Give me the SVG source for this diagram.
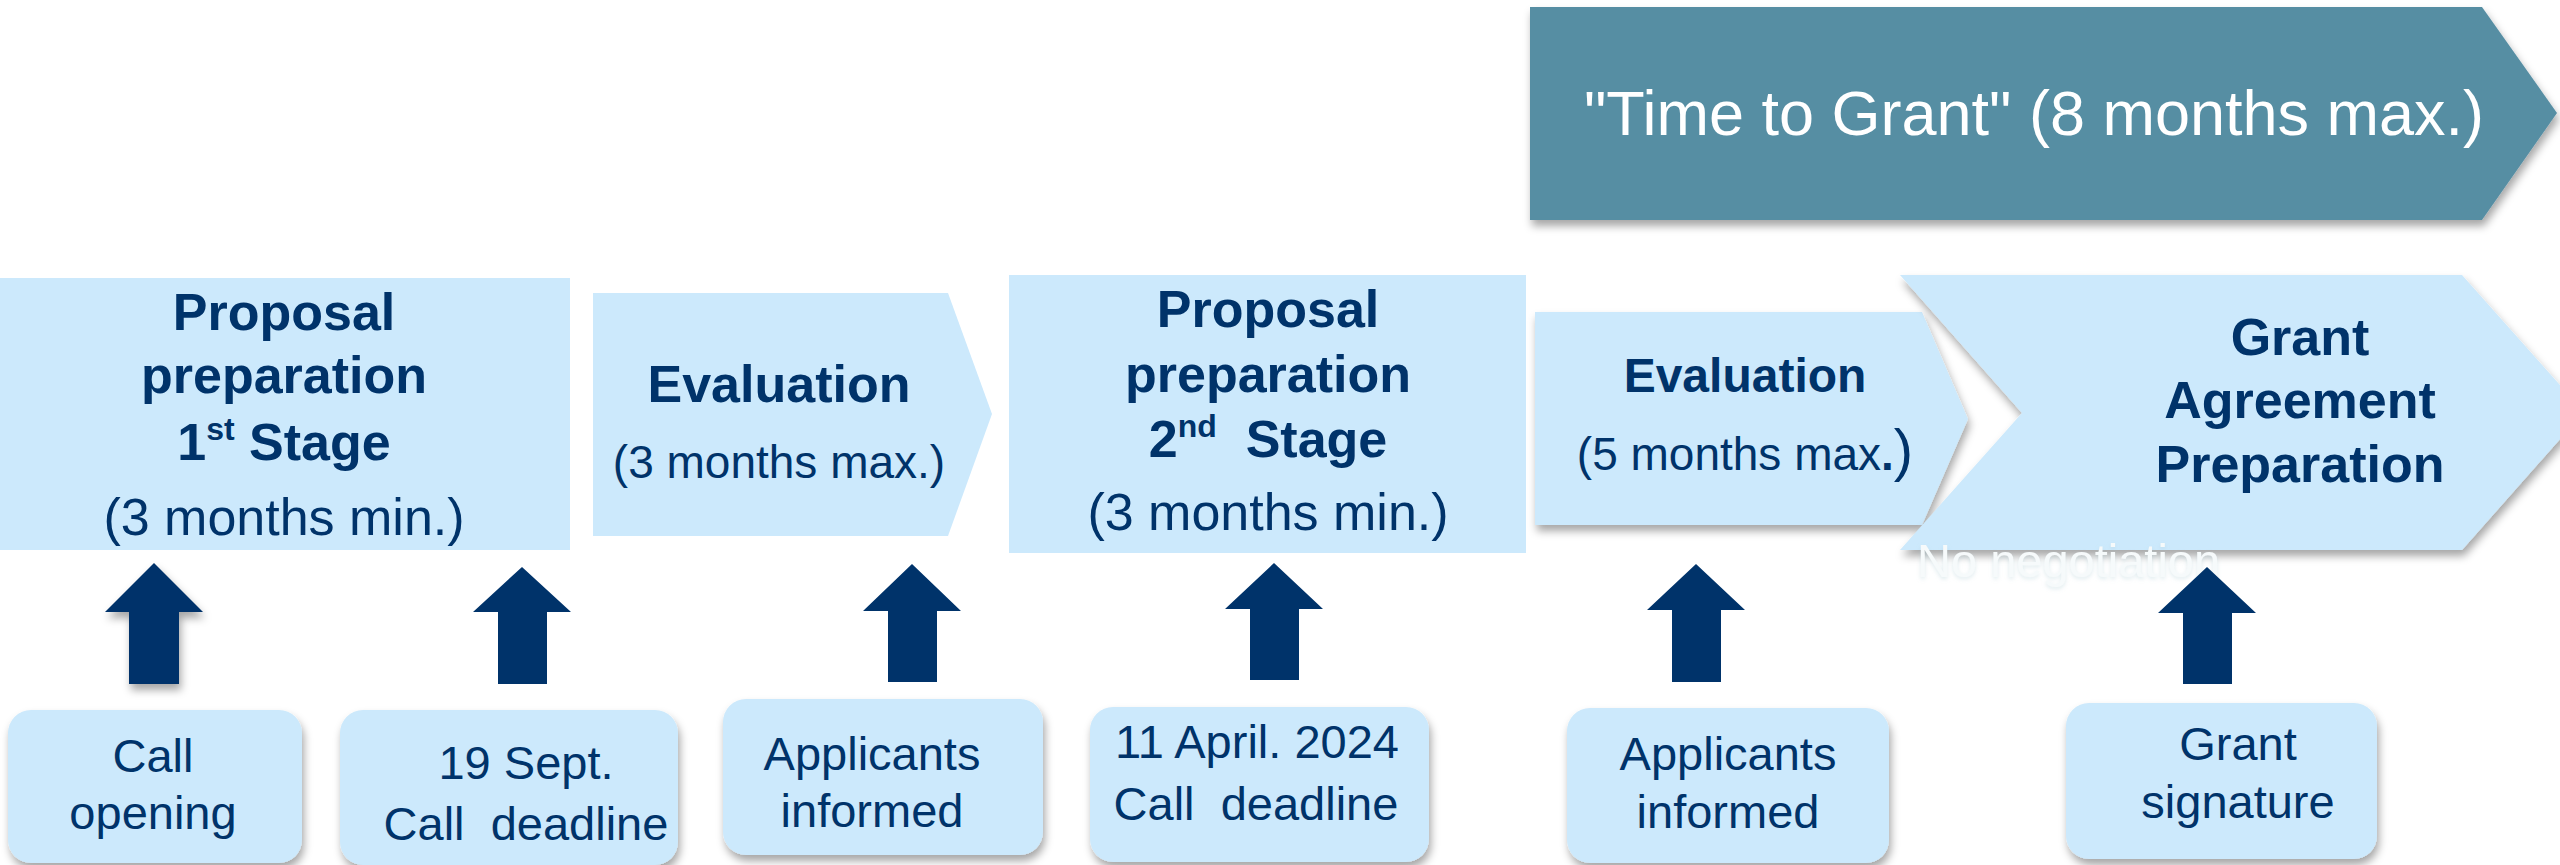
<svg xmlns="http://www.w3.org/2000/svg" width="2560" height="865" viewBox="0 0 2560 865">
<defs>
<filter id="sh" x="-10%" y="-10%" width="130%" height="140%">
<feDropShadow dx="2" dy="6" stdDeviation="4" flood-color="#000" flood-opacity="0.35"/>
</filter>
<filter id="glow" x="-5%" y="-30%" width="110%" height="160%">
<feDropShadow dx="0" dy="2" stdDeviation="2" flood-color="#9fc3cf" flood-opacity="0.35"/>
</filter>
<style>
.lb{fill:#CCE9FC}
.nv{fill:#00336A}
text{font-family:"Liberation Sans",Arial,sans-serif;fill:#00336A}
.b{font-weight:bold;font-size:52px}
.r{font-size:52px}
.s{font-size:46px}
.t{font-size:47px}
</style>
</defs>
<rect width="2560" height="865" fill="#FFFFFF"/>

<g id="banner">
<polygon points="1530,7 2482,7 2557,113 2482,220 1530,220" fill="#578EA3" filter="url(#sh)"/>
<text x="2034" y="135" text-anchor="middle" style="font-size:63px;fill:#FFFFFF">"Time to Grant" (8 months max.)</text>
</g>

<g id="stage1">
<rect class="lb" x="0" y="278" width="570" height="272"/>
<text class="b" x="284" y="330" text-anchor="middle">Proposal</text>
<text class="b" x="284" y="393" text-anchor="middle">preparation</text>
<text class="b" x="284" y="460" text-anchor="middle">1<tspan style="font-size:32px" dy="-20">st</tspan><tspan dy="20"> Stage</tspan></text>
<text class="r" x="284" y="535" text-anchor="middle">(3 months min.)</text>
</g>

<g id="eval1">
<polygon class="lb" points="593,293 948,293 992,414 948,536 593,536"/>
<text class="b" x="779" y="402" text-anchor="middle">Evaluation</text>
<text class="s" x="779" y="478" text-anchor="middle">(3 months max.)</text>
</g>

<g id="stage2">
<rect class="lb" x="1009" y="275" width="517" height="278"/>
<text class="b" x="1268" y="327" text-anchor="middle">Proposal</text>
<text class="b" x="1268" y="392" text-anchor="middle">preparation</text>
<text class="b" x="1268" y="457" text-anchor="middle" xml:space="preserve">2<tspan style="font-size:32px" dy="-20">nd</tspan><tspan dy="20">  Stage</tspan></text>
<text class="r" x="1268" y="530" text-anchor="middle">(3 months min.)</text>
</g>

<g id="eval2">
<polygon class="lb" points="1535,312 1922,312 1968,419 1922,525 1535,525" filter="url(#sh)"/>
<text class="b" x="1745" y="392" text-anchor="middle" style="font-size:48px">Evaluation</text>
<text class="s" x="1745" y="470" text-anchor="middle">(5 months max<tspan font-weight="bold">.</tspan><tspan style="font-size:58px">)</tspan></text>
</g>

<g id="grant">
<polygon class="lb" points="1900,275 2462,275 2584,412 2462,550 1900,550 2022,413" filter="url(#sh)"/>
<text class="b" x="2300" y="355" text-anchor="middle">Grant</text>
<text class="b" x="2300" y="418" text-anchor="middle">Agreement</text>
<text class="b" x="2300" y="482" text-anchor="middle">Preparation</text>
<text x="1917" y="577" filter="url(#glow)" style="font-size:47px;fill:#F6FAFB">No negotiation</text>
</g>

<g id="connectors">
<polygon class="nv" filter="url(#sh)" points="154,563 203,612 179,612 179,684 129,684 129,612 105,612"/>
<polygon class="nv" points="522,567 571,612 547,612 547,684 498,684 498,612 473,612"/>
<polygon class="nv" points="912,564 961,611 937,611 937,682 888,682 888,611 863,611"/>
<polygon class="nv" points="1274,563 1323,609 1299,609 1299,680 1250,680 1250,609 1225,609"/>
<polygon class="nv" points="1696,564 1745,610 1721,610 1721,682 1672,682 1672,610 1647,610"/>
<polygon class="nv" points="2207,567 2256,613 2232,613 2232,684 2183,684 2183,613 2158,613"/>
</g>

<g id="call-opening">
<rect class="lb" x="8" y="710" width="294" height="153" rx="23" filter="url(#sh)"/>
<text class="t" x="153" y="772" text-anchor="middle">Call</text>
<text class="t" x="153" y="829" text-anchor="middle">opening</text>
</g>

<g id="deadline1">
<rect class="lb" x="340" y="710" width="338" height="155" rx="23" filter="url(#sh)"/>
<text class="t" x="526" y="779" text-anchor="middle">19 Sept.</text>
<text class="t" x="526" y="840" text-anchor="middle" xml:space="preserve">Call  deadline</text>
</g>

<g id="informed1">
<rect class="lb" x="723" y="699" width="320" height="156" rx="23" filter="url(#sh)"/>
<text class="t" x="872" y="770" text-anchor="middle">Applicants</text>
<text class="t" x="872" y="827" text-anchor="middle">informed</text>
</g>

<g id="deadline2">
<rect class="lb" x="1090" y="707" width="339" height="155" rx="23" filter="url(#sh)"/>
<text class="t" x="1257" y="758" text-anchor="middle">11 April. 2024</text>
<text class="t" x="1256" y="820" text-anchor="middle" xml:space="preserve">Call  deadline</text>
</g>

<g id="informed2">
<rect class="lb" x="1567" y="708" width="322" height="155" rx="23" filter="url(#sh)"/>
<text class="t" x="1728" y="770" text-anchor="middle">Applicants</text>
<text class="t" x="1728" y="828" text-anchor="middle">informed</text>
</g>

<g id="grant-signature">
<rect class="lb" x="2066" y="703" width="311" height="156" rx="23" filter="url(#sh)"/>
<text class="t" x="2238" y="760" text-anchor="middle">Grant</text>
<text class="t" x="2238" y="818" text-anchor="middle">signature</text>
</g>
</svg>
